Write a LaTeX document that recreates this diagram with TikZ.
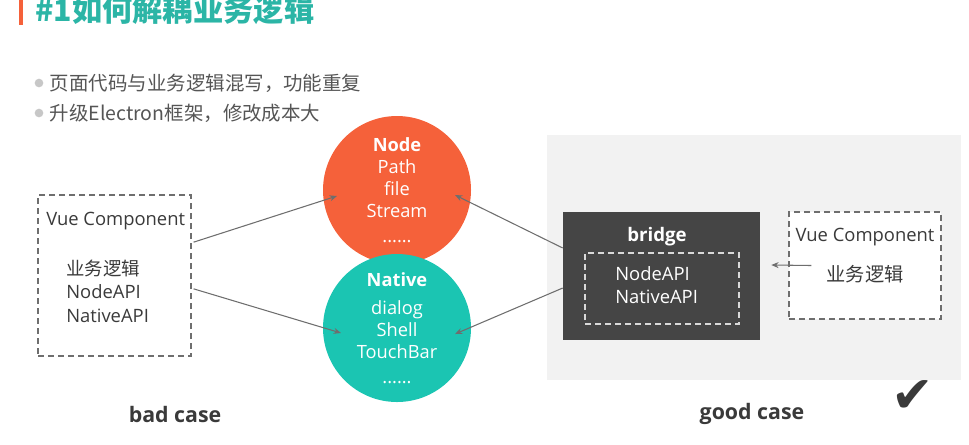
\documentclass[tikz,border=0pt]{standalone}
\usepackage{fontspec}
\setmainfont{Open Sans}
\newfontfamily\cjk{Noto Sans CJK SC}
\newfontfamily\symfont{DejaVu Sans}
\usetikzlibrary{positioning, arrows.meta}

\definecolor{titleteal}{HTML}{2BB5A6}
\definecolor{nodeorange}{HTML}{F5613A}
\definecolor{nativeteal}{HTML}{1BC5B2}
\definecolor{bridgegray}{HTML}{454545}
\definecolor{panelgray}{HTML}{F2F2F2}
\definecolor{textgray}{HTML}{555555}
\definecolor{darktext}{HTML}{3A3A3A}
\definecolor{linegray}{HTML}{6E6E6E}

\begin{document}
\begin{tikzpicture}[x=0.75pt, y=-0.75pt, >={Stealth[length=5.5pt,width=4.5pt]},
    api/.style={circle, minimum size=111pt, inner sep=0pt, text=white, align=center,
        font=\fontsize{13.7}{16.5}\selectfont},
    dashbox/.style={draw=linegray, dash pattern=on 4.5pt off 3pt, line width=0.9pt, inner sep=0pt},
    boxtext/.style={inner sep=0pt, text=darktext, font=\fontsize{13.8}{17.6}\selectfont},
    bullet/.style={circle, fill=black!22, minimum size=6.5pt, inner sep=0pt},
    bullettext/.style={inner sep=0pt, text=textgray, font=\cjk\fontsize{14.6}{18}\selectfont},
    casetext/.style={inner sep=0pt, text=darktext, font=\bfseries\fontsize{16}{18}\selectfont},
    link/.style={->, draw=linegray, line width=0.8pt}]
    \useasboundingbox (0,0) rectangle (969,444);

    % title
    \fill[nodeorange] (19,-5) rectangle (23,25);
    \node[anchor=west, inner sep=0pt, text=titleteal, font=\cjk\bfseries\fontsize{22.7}{27}\selectfont]
        (title) at (35,10) {\#1如何解耦业务逻辑};

    \node[bullet] (b1) at (39,83) {};
    \node[bullettext] (b1text) [right=4.5pt of b1] {页面代码与业务逻辑混写，功能重复};
    \node[bullet] (b2) at (39,113) {};
    \node[bullettext] (b2text) [right=4.5pt of b2] {升级Electron框架，修改成本大};

    % bad case
    \node[dashbox, minimum width=114.75pt, minimum height=120.75pt] (vueL) at (114.5,275.5) {};
    \node[boxtext, anchor=west] (vueLtitle) at (46,221) {Vue Component};
    \node[boxtext, anchor=west, align=left] (vueLbody) at (66,291) {{\cjk 业务逻辑}\\NodeAPI\\NativeAPI};
    \node[casetext] (bad) at (175,414) {bad case};

    % good case
    \fill[panelgray] (547,135) rectangle (961,380);
    \node[fill=bridgegray, minimum width=147.75pt, minimum height=96pt, inner sep=0pt] (bridge) at (661.5,276) {};
    \node[dashbox, draw=white!85!black, minimum width=115.5pt, minimum height=53.25pt] (api) at (662,288.5) {};
    \node[boxtext, text=white, font=\bfseries\fontsize{14}{17}\selectfont] (bridgetitle) at (657,237) {bridge};
    \node[boxtext, text=white, anchor=west, align=left] (apitext) at (615,285) {NodeAPI\\NativeAPI};
    \node[dashbox, fill=white, minimum width=114pt, minimum height=80.25pt] (vueR) at (865,265.5) {};
    \node[boxtext] (vueRtitle) at (865,237) {Vue Component};
    \node[boxtext, font=\cjk\fontsize{14.4}{17}\selectfont] (vueRbody) at (865,274) {业务逻辑};
    \node[casetext] (good) at (752,414) {good case};
    \node[inner sep=0pt, text=darktext, font=\symfont\fontsize{38}{38}\selectfont] (check) at (913,397) {✔};

    % electron apis
    \node[api, fill=nodeorange] (node) at (397,190)
        {\textbf{Node}\\Path\\file\\Stream\\[2pt]......};
    \node[api, fill=nativeteal] (native) at (397,328)
        {\textbf{Native}\\[5pt]dialog\\Shell\\TouchBar\\[2pt]......};

    \path
    ([xshift=1.5pt,yshift=25pt]vueL.east) edge[link] ([xshift=-45pt,yshift=-4.5pt]node.center)
    ([xshift=1.5pt,yshift=-10pt]vueL.east) edge[link] ([xshift=-42pt,yshift=-3.75pt]native.center)
    ([yshift=21pt]bridge.west) edge[link] ([xshift=43.5pt,yshift=-3.75pt]node.center)
    ([yshift=-9pt]bridge.west) edge[link] ([xshift=43.5pt,yshift=-4.5pt]native.center)
    ([xshift=17.25pt]vueR.west) edge[link] ([xshift=8.25pt,yshift=8.25pt]bridge.east);
\end{tikzpicture}
\end{document}
